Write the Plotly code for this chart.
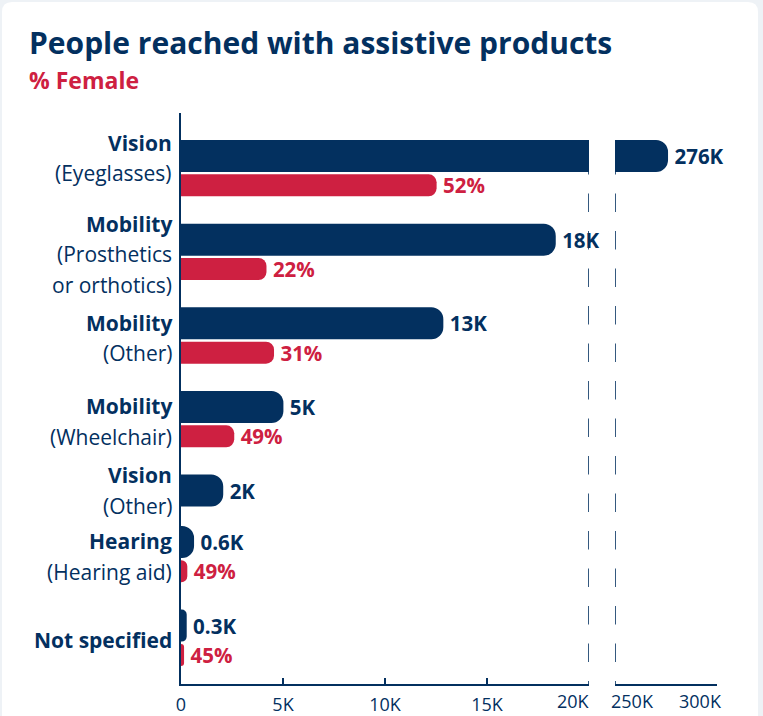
import plotly.graph_objects as go

# ---------------- data ----------------
label_lines = [
    ["Vision", "(Eyeglasses)"],
    ["Mobility", "(Prosthetics", "or orthotics)"],
    ["Mobility", "(Other)"],
    ["Mobility", "(Wheelchair)"],
    ["Vision", "(Other)"],
    ["Hearing", "(Hearing aid)"],
    ["Not specified"],
]
people_reached = [276000, 18370, 12860, 5020, 2070, 640, 280]
people_labels = ["276K", "18K", "13K", "5K", "2K", "0.6K", "0.3K"]
female_bar_values = [12530, 4190, 4560, 2610, None, 310, 150]
female_labels = ["52%", "22%", "31%", "49%", "", "49%", "45%"]

left_ticks = [0, 5000, 10000, 15000, 20000]
left_ticktext = ["0", "5K", "10K", "15K", "20K"]
right_ticks = [250000, 300000]
right_ticktext = ["250K", "300K"]
BREAK_LOW, BREAK_HIGH, RIGHT_MAX = 20000, 250000, 300000

# ---------------- style ----------------
NAVY = "#03305F"
RED = "#CE2041"
PAGE_BG = "#EEF2F6"
FONT = "Open Sans"
W, H = 763, 716
ML, MR, MT, MB = 181, 46, 113, 32
PW, PH = W - ML - MR, H - MT - MB
TICK_FONT = dict(family=FONT, size=18, color=NAVY)
PAD = "\u2009"
ROW_PX = 29.35      # pixels per row step
FIRST_ROW_PX = 156  # pixel centre of first bar

def pxx(px):
    return (px - ML) / PW

def pxy(py):
    return (H - MB - py) / PH

# row positions (sequence of bars; navy then red)
navy_y, red_y = [], []
pos = 0.0
for f in female_bar_values:
    navy_y.append(pos)
    if f is None:
        red_y.append(None)
        pos += 1.75
    else:
        red_y.append(pos + 1)
        pos += 2.85

unit = ROW_PX
y_top = -(FIRST_ROW_PX - MT) / unit
y_bot = (H - MB - FIRST_ROW_PX) / unit

fig = go.Figure()

left_text = [("" if v > BREAK_LOW else "<b>%s%s</b>" % (PAD, t)) for v, t in zip(people_reached, people_labels)]
fig.add_trace(go.Bar(
    x=people_reached, y=navy_y, orientation="h", width=32 / unit,
    marker=dict(color=NAVY, cornerradius=12, line=dict(width=0)),
    text=left_text, textposition="outside", cliponaxis=False, constraintext="none",
    textfont=dict(family=FONT, size=20.5, color=NAVY),
    xaxis="x", yaxis="y", hoverinfo="skip", showlegend=False,
))
fig.add_trace(go.Bar(
    x=female_bar_values, y=red_y, orientation="h", width=22 / unit,
    marker=dict(color=RED, cornerradius=8, line=dict(width=0)),
    text=["<b>%s%s</b>" % (PAD, t) if t else "" for t in female_labels],
    textposition="outside", cliponaxis=False, constraintext="none",
    textfont=dict(family=FONT, size=20.5, color=RED),
    xaxis="x", yaxis="y", hoverinfo="skip", showlegend=False,
))
big_x = [v for v in people_reached if v > BREAK_LOW]
big_y = [y for v, y in zip(people_reached, navy_y) if v > BREAK_LOW]
big_t = ["<b>%s%s</b>" % (PAD, t) for v, t in zip(people_reached, people_labels) if v > BREAK_LOW]
fig.add_trace(go.Bar(
    x=big_x, y=big_y, orientation="h", width=32 / unit,
    marker=dict(color=NAVY, cornerradius=12, line=dict(width=0)),
    text=big_t, textposition="outside", cliponaxis=False, constraintext="none",
    textfont=dict(family=FONT, size=20.5, color=NAVY),
    xaxis="x2", yaxis="y", hoverinfo="skip", showlegend=False,
))

# white card with rounded top corners
cx0, cx1, cy0, cy1 = pxx(2), pxx(758), pxy(2), pxy(760)
rx, ry = 10 / PW, 10 / PH
card_path = (f"M {cx0},{cy1} L {cx0},{cy0 - ry} Q {cx0},{cy0} {cx0 + rx},{cy0} "
             f"L {cx1 - rx},{cy0} Q {cx1},{cy0} {cx1},{cy0 - ry} L {cx1},{cy1} Z")

shapes = [
    dict(type="path", xref="paper", yref="paper", path=card_path,
         fillcolor="white", line=dict(width=0), layer="below"),
    # axis-break dashed lines
    dict(type="line", xref="x", yref="y", x0=BREAK_LOW, x1=BREAK_LOW, y0=navy_y[0], y1=y_bot,
         line=dict(color=NAVY, width=1.6, dash="18.5px,19px"), layer="below"),
    dict(type="line", xref="x2", yref="y", x0=BREAK_HIGH, x1=BREAK_HIGH, y0=navy_y[0], y1=y_bot,
         line=dict(color=NAVY, width=1.6, dash="18.5px,19px"), layer="below"),
]

annotations = [
    dict(text="<b>People reached with assistive products</b>", xref="paper", yref="paper",
         x=pxx(27), y=pxy(42), xanchor="left", yanchor="middle", showarrow=False,
         font=dict(family=FONT, size=30, color=NAVY)),
    dict(text="<b>% Female</b>", xref="paper", yref="paper",
         x=pxx(27), y=pxy(80), xanchor="left", yanchor="middle", showarrow=False,
         font=dict(family=FONT, size=23, color=RED)),
]
LINE_H = 30.5
for i, lines in enumerate(label_lines):
    if i == 0 or red_y[i] is None:
        anchor = navy_y[i]
    else:
        anchor = (navy_y[i] + red_y[i]) / 2
    n = len(lines)
    for j, ln in enumerate(lines):
        txt = "<b>%s</b>" % ln if j == 0 else ln
        annotations.append(dict(
            text=txt, xref="paper", yref="y", x=0, y=anchor, xanchor="right", yanchor="middle",
            xshift=-7, yshift=-(j - (n - 1) / 2) * LINE_H - (2 if i == 0 else 0), showarrow=False,
            font=dict(family=FONT, size=21, color=NAVY)))

# edge tick labels that sit inside their axis segment
edge_labels = [("x", left_ticks[-1], left_ticktext[-1], "right", 3),
               ("x2", right_ticks[0], right_ticktext[0], "left", -6),
               ("x2", right_ticks[-1], right_ticktext[-1], "right", 7)]
for ax, val, txt, anc, sh in edge_labels:
    annotations.append(dict(text=txt, xref=ax, yref="paper", x=val, y=pxy(701),
                            xanchor=anc, yanchor="middle", xshift=sh, showarrow=False,
                            font=TICK_FONT))

axis_common = dict(showline=True, linecolor=NAVY, linewidth=1.6, ticks="inside", ticklen=6,
                   tickwidth=1.6, tickcolor=NAVY, showgrid=False, zeroline=False,
                   tickfont=TICK_FONT, ticklabelstandoff=4, automargin=False)

fig.update_layout(
    width=W, height=H,
    margin=dict(l=ML, r=MR, t=MT, b=MB, autoexpand=False),
    paper_bgcolor=PAGE_BG, plot_bgcolor="white",
    barmode="overlay",
    xaxis=dict(domain=[0, pxx(589)], range=[0, BREAK_LOW], tickvals=left_ticks,
               ticktext=left_ticktext[:-1] + [""], anchor="y", **axis_common),
    xaxis2=dict(domain=[pxx(615), 1], range=[BREAK_HIGH, RIGHT_MAX], tickvals=right_ticks,
                ticktext=["", ""], anchor="y", **axis_common),
    yaxis=dict(range=[y_bot, y_top], showline=True, linecolor=NAVY, linewidth=1.6,
               showticklabels=False, ticks="", showgrid=False, zeroline=False, automargin=False),
    shapes=shapes,
    annotations=annotations,
    font=dict(family=FONT, color=NAVY),
)

fig.write_html("out.html", config={"displayModeBar": False},
               post_script="document.body.style.margin='0';document.body.style.background='%s';" % PAGE_BG)
